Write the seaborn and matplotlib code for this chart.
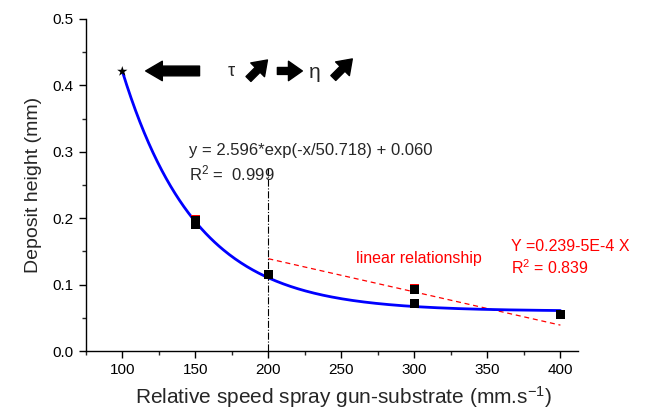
import numpy as np
import pandas as pd
import matplotlib
matplotlib.use("Agg")
import matplotlib.pyplot as plt
import seaborn as sns
from matplotlib.ticker import MultipleLocator

sns.set_style("ticks")
plt.rcParams['font.family'] = ['Liberation Sans', 'DejaVu Sans']
plt.rcParams['mathtext.fontset'] = 'custom'
plt.rcParams['mathtext.rm'] = 'Liberation Sans'
plt.rcParams['mathtext.it'] = 'Liberation Sans:italic'
plt.rcParams['mathtext.default'] = 'rm'

# data
speed = [150, 150, 200, 300, 300, 400]
height = [0.190, 0.197, 0.115, 0.092, 0.072, 0.055]
red_speed = [150, 300]
red_height = [0.198, 0.094]
star_speed = [100]
star_height = [0.421]

# exponential fit y = A*exp(-x/t) + y0 shown on the chart
fit_A, fit_t, fit_y0 = 2.596, 50.718, 0.060
# linear fit Y = a + b X
lin_a, lin_b = 0.239, -5e-4

fig = plt.figure(figsize=(6.45, 4.12), dpi=100)
ax = fig.add_axes([0.133, 0.148, 0.763, 0.806])

fx = np.linspace(100, 400, 300)
fit_df = pd.DataFrame({"x": fx, "y": fit_A * np.exp(-fx / fit_t) + fit_y0})
sns.lineplot(data=fit_df, x="x", y="y", color="#0000ff", lw=2, ax=ax, zorder=2)

lx = np.array([200, 400])
ax.plot(lx, lin_a + lin_b * lx, color="red", ls=(0, (4, 3)), lw=0.9, zorder=1)

ax.plot([200, 200], [0, 0.276], color="black", ls="-.", lw=0.8, zorder=1)

sns.scatterplot(x=red_speed, y=red_height, marker="s", color="red", s=45,
                edgecolor="none", ax=ax, zorder=3)
sns.scatterplot(x=speed, y=height, marker="s", color="black", s=42,
                edgecolor="none", ax=ax, zorder=4)
sns.scatterplot(x=star_speed, y=star_height, marker="*", color="black", s=60,
                edgecolor="none", ax=ax, zorder=4)

ax.set_xlim(75, 412)
ax.set_ylim(0, 0.5)
ax.xaxis.set_minor_locator(MultipleLocator(25))
ax.yaxis.set_major_locator(MultipleLocator(0.1))
ax.yaxis.set_minor_locator(MultipleLocator(0.05))
ax.set_xticks([100, 150, 200, 250, 300, 350, 400])
ax.yaxis.set_major_formatter(matplotlib.ticker.FormatStrFormatter('%.1f'))
ax.tick_params(axis='both', which='major', direction='out', length=5, width=1,
               labelsize=11, colors='black')
ax.tick_params(axis='both', which='minor', direction='out', length=3, width=1)
for s in ['left', 'bottom']:
    ax.spines[s].set_color('black')
    ax.spines[s].set_linewidth(1)
sns.despine(ax=ax)

ax.set_xlabel("Relative speed spray gun-substrate (mm.s$^{-1}$)", fontsize=15)
ax.xaxis.set_label_coords(0.524, -0.1)
ax.set_ylabel("Deposit height (mm)", fontsize=14, labelpad=8)

ax.text(146, 0.302, "y = 2.596*exp(-x/50.718) + 0.060", fontsize=12, va='center')
ax.text(146, 0.268, "R$^2$ =  0.999", fontsize=12, va='center')
ax.text(260, 0.140, "linear relationship", fontsize=11.5, color='red', va='center')
ax.text(366, 0.157, "Y =0.239-5E-4 X", fontsize=11.5, color='red', va='center')
ax.text(366, 0.125, "R$^2$ = 0.839", fontsize=11.5, color='red', va='center')

# arrows and symbols at the top
def arrow(x0, y0, x1, y1, hl, hw, tw):
    ax.annotate("", xy=(x1, y1), xytext=(x0, y0),
                arrowprops=dict(arrowstyle=f"simple,head_length={hl},head_width={hw},tail_width={tw}",
                                color="black", shrinkA=0, shrinkB=0, mutation_scale=10),
                annotation_clip=False)

arrow(152.9, 0.4217, 116.0, 0.4217, 1.2, 1.4, 0.7)
ax.text(174.8, 0.421, "τ", fontsize=13, va='center', ha='center')
arrow(186.4, 0.4096, 199.4, 0.4382, 1.0, 1.4, 0.5)
arrow(206.2, 0.4217, 223.3, 0.4217, 1.0, 1.4, 0.5)
ax.text(231.5, 0.419, "η", fontsize=15, va='center', ha='center')
arrow(244.5, 0.4111, 257.5, 0.4398, 1.0, 1.4, 0.5)

fig.savefig("out.png", dpi=100)
